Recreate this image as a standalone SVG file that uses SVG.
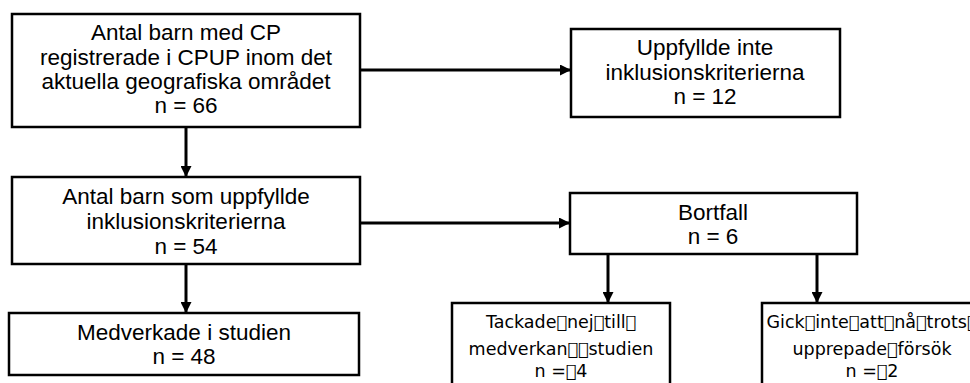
<svg xmlns="http://www.w3.org/2000/svg" width="970" height="383" viewBox="0 0 970 383">
<defs>
<marker id="ah" markerWidth="11" markerHeight="11" refX="10" refY="5.5" orient="auto" markerUnits="userSpaceOnUse">
<path d="M0,0 L11,5.5 L0,11 Z" fill="#000"/>
</marker>
<style>
.box{fill:#fff;stroke:#000;stroke-width:2.5}
.t{font-family:"Liberation Sans",Arial,sans-serif;font-size:22.5px;fill:#000;text-anchor:middle}
.d{font-family:"DejaVu Sans",sans-serif;font-size:17.5px;fill:#000;text-anchor:middle}
.c{stroke:#000;stroke-width:3;fill:none;marker-end:url(#ah)}
</style>
</defs>
<rect width="970" height="383" fill="#fff"/>
<g id="connectors">
<line class="c" x1="360" y1="70" x2="570" y2="70"/>
<line class="c" x1="186" y1="127" x2="186" y2="176"/>
<line class="c" x1="360" y1="223" x2="569" y2="223"/>
<line class="c" x1="186" y1="264" x2="186" y2="312"/>
<line class="c" x1="608" y1="254" x2="608" y2="302"/>
<line class="c" x1="817" y1="254" x2="817" y2="302"/>
</g>
<g id="n1">
<rect class="box" x="12" y="14" width="348" height="113"/>
<text class="t" x="186" y="40">Antal barn med CP</text>
<text class="t" x="186" y="65">registrerade i CPUP inom det</text>
<text class="t" x="186" y="89">aktuella geografiska området</text>
<text class="t" x="186" y="113">n = 66</text>
</g>
<g id="n2">
<rect class="box" x="571" y="29" width="269" height="88"/>
<text class="t" x="705" y="55">Uppfyllde inte</text>
<text class="t" x="705" y="80">inklusionskriterierna</text>
<text class="t" x="705" y="104">n = 12</text>
</g>
<g id="n3">
<rect class="box" x="12" y="177" width="348" height="87"/>
<text class="t" x="186" y="204">Antal barn som uppfyllde</text>
<text class="t" x="186" y="229">inklusionskriterierna</text>
<text class="t" x="186" y="254">n = 54</text>
</g>
<g id="n4">
<rect class="box" x="570" y="193" width="287" height="61"/>
<text class="t" x="713" y="220">Bortfall</text>
<text class="t" x="713" y="244">n = 6</text>
</g>
<g id="n5">
<rect class="box" x="9" y="313" width="350" height="62"/>
<text class="t" x="184" y="340">Medverkade i studien</text>
<text class="t" x="184" y="364">n = 48</text>
</g>
<g id="n6">
<rect class="box" x="452" y="303" width="218" height="90"/>
<text class="d" x="561" y="328">Tackade&#xF020;nej&#xF020;till&#xF020;</text>
<text class="d" x="561" y="355">medverkan&#xF020;&#xF020;studien</text>
<text class="d" x="561" y="377">n =&#xF020;4</text>
</g>
<g id="n7">
<rect class="box" x="762" y="303" width="220" height="90"/>
<text class="d" x="872" y="328">Gick&#xF020;inte&#xF020;att&#xF020;nå&#xF020;trots&#xF020;</text>
<text class="d" x="872" y="355">upprepade&#xF020;försök</text>
<text class="d" x="872" y="377">n =&#xF020;2</text>
</g>
</svg>
